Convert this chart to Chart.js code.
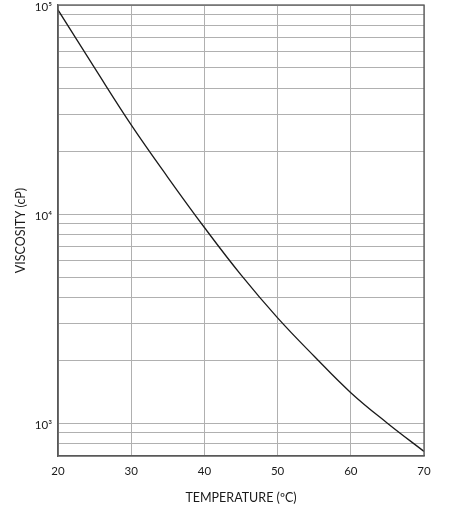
<!DOCTYPE html>
<html>
<head>
<meta charset="utf-8">
<script src="https://cdn.jsdelivr.net/npm/chart.js@4"></script>
<style>
html,body{margin:0;padding:0;background:#fff;}
#wrap{width:461px;height:519px;}
</style>
</head>
<body>
<div id="wrap"><canvas id="c" width="461" height="519"></canvas></div>
<script>
// Temperature (ºC)
const temperatures = [20, 25, 30, 35, 40, 45, 50, 55, 60, 65, 70];
// Viscosity (cP)
const viscosity = [94700, 50000, 26700, 15000, 8630, 5120, 3190, 2090, 1400, 1000, 733];
// Axis tick values / labels
const xTicks = [20, 30, 40, 50, 60, 70];
const yDecades = [1000, 10000, 100000];
const yDecadeLabels = ['10³', '10⁴', '10⁵'];
const yMin = 697, yMax = 100000;

const FONT = 'Lato, "Open Sans", "Liberation Sans", sans-serif';

const boxPlugin = {
  id: 'box',
  afterDraw(chart) {
    const a = chart.chartArea, ctx = chart.ctx;
    ctx.save();
    ctx.strokeStyle = '#595959';
    ctx.lineWidth = 1.3;
    ctx.strokeRect(a.left, a.top, a.right - a.left, a.bottom - a.top);
    ctx.restore();
  }
};

new Chart(document.getElementById('c'), {
  type: 'line',
  data: {
    datasets: [{
      data: temperatures.map((t, i) => ({x: t, y: viscosity[i]})),
      borderColor: '#1a1a1a',
      borderWidth: 1.3,
      pointRadius: 0,
      tension: 0.4,
      fill: false
    }]
  },
  options: {
    responsive: false,
    animation: false,
    devicePixelRatio: 1,
    layout: {padding: {top: 5, right: 37, bottom: 0, left: 0}},
    plugins: {legend: {display: false}, tooltip: {enabled: false}},
    scales: {
      x: {
        type: 'linear',
        min: 20, max: 70,
        afterBuildTicks: s => { s.ticks = xTicks.map(v => ({value: v})); },
        afterFit: s => { s.height = 63; s.paddingLeft = 0; s.paddingRight = 0; },
        grid: {color: '#b0b0b0', lineWidth: 1, drawTicks: false},
        border: {color: '#595959', width: 1.3},
        ticks: {color: '#1a1a1a', font: {family: FONT, size: 11.5}, padding: 8, maxRotation: 0},
        title: {display: true, text: 'TEMPERATURE (ºC)', color: '#1a1a1a',
                font: {family: FONT, size: 12.5}, padding: {top: 0, bottom: 14}}
      },
      y: {
        type: 'logarithmic',
        min: yMin, max: yMax,
        afterBuildTicks: s => {
          const t = [];
          for (let e = 100; e <= 10000; e *= 10) {
            for (let m = 1; m <= 9; m++) {
              const v = m * e;
              if (v >= yMin && v <= yMax) t.push({value: v});
            }
          }
          t.push({value: yMax});
          s.ticks = t;
        },
        afterFit: s => { s.width = 58; s.paddingTop = 0; s.paddingBottom = 0; },
        grid: {color: '#b0b0b0', lineWidth: 1, drawTicks: false},
        border: {color: '#595959', width: 1.3},
        ticks: {
          color: '#1a1a1a', font: {family: FONT, size: 11.5}, padding: 6, autoSkip: false,
          labelOffset: 2,
          callback: v => { const i = yDecades.indexOf(v); return i >= 0 ? yDecadeLabels[i] : ''; }
        },
        title: {display: true, text: 'VISCOSITY (cP)', color: '#1a1a1a',
                font: {family: FONT, size: 12.5}, padding: {top: 13, bottom: 0}}
      }
    }
  },
  plugins: [boxPlugin]
});
</script>
</body>
</html>
